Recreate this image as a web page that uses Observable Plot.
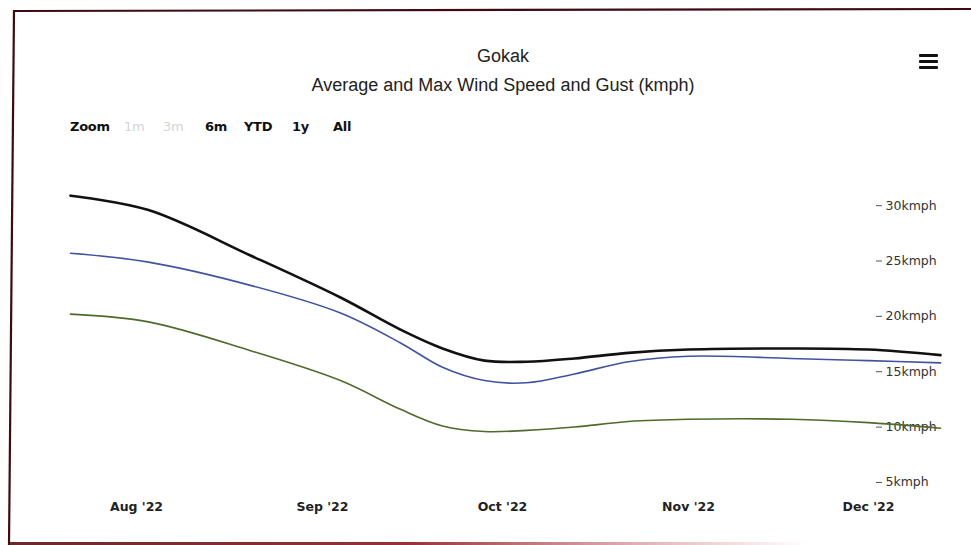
<!DOCTYPE html>
<html>
<head>
<meta charset="utf-8">
<script src="https://cdn.jsdelivr.net/npm/d3@7"></script>
<script src="https://cdn.jsdelivr.net/npm/@observablehq/plot@0.6"></script>
<style>
  html, body { margin: 0; padding: 0; background: #fff; }
  #wrap { position: relative; width: 971px; height: 545px; overflow: hidden; background: #fff; font-family: "Liberation Sans", Arial, sans-serif; }
  .abs { position: absolute; white-space: nowrap; }
  #title { left: 0; width: 1006px; top: 46px; text-align: center; font-size: 18px; color: #222; }
  #subtitle { left: 0; width: 1006px; top: 75px; text-align: center; font-size: 18px; color: #222; }
  .rs { top: 119px; font-size: 13px; font-weight: 600; color: #111; font-family: "DejaVu Sans", sans-serif; letter-spacing: -0.3px; }
  .rs.dis { color: #d4d4d4; font-weight: 400; }
  #chart { position: absolute; left: 0; top: 150px; }
  #menu { left: 919px; top: 54px; width: 19px; }
  #menu div { height: 3px; background: #111; margin-bottom: 3px; border-radius: 1px; }
  #deco { position: absolute; left: 0; top: 0; pointer-events: none; }
</style>
</head>
<body>
<div id="wrap">
  <div id="title" class="abs">Gokak</div>
  <div id="subtitle" class="abs">Average and Max Wind Speed and Gust (kmph)</div>
  <div id="rsel"></div>
  <div id="menu" class="abs"><div></div><div></div><div></div></div>
  <div id="chart"></div>
  <svg id="deco" width="971" height="545">
    <defs>
      <linearGradient id="bot" x1="0" x2="1" y1="0" y2="0">
        <stop offset="0" stop-color="#5a1016" stop-opacity="0.9"/>
        <stop offset="0.5" stop-color="#8a1a22" stop-opacity="0.9"/>
        <stop offset="1" stop-color="#c04050" stop-opacity="0"/>
      </linearGradient>
    </defs>
    <line x1="14" y1="11" x2="971" y2="9" stroke="#3c0c12" stroke-width="2.2"/>
    <line x1="14" y1="10" x2="9" y2="545" stroke="#3c0c12" stroke-width="2.2"/>
    <rect x="9" y="542" width="800" height="3" fill="url(#bot)"/>
  </svg>
</div>
<script>
// ---- data ----
const dates = ["2022-07-21","2022-08-03","2022-08-20","2022-09-04","2022-09-14","2022-09-21","2022-09-28","2022-10-05","2022-10-13","2022-10-22","2022-11-01","2022-11-18","2022-12-01","2022-12-13"];
const gust    = [30.9, 29.6, 25.5, 21.7, 18.8, 17.1, 16.0, 15.9, 16.2, 16.7, 17.0, 17.1, 17.0, 16.5];
const maxWind = [25.7, 24.9, 22.8, 20.3, 17.6, 15.4, 14.2, 14.0, 14.8, 15.9, 16.4, 16.2, 16.0, 15.8];
const avgWind = [20.2, 19.5, 16.9, 14.2, 11.6, 10.1, 9.6, 9.7, 10.0, 10.5, 10.7, 10.7, 10.4, 9.9];
const seriesNames = ["Gust", "Max Wind Speed", "Average Wind Speed"];
const seriesColors = ["#111111", "#43529e", "#4f6a2c"];
const seriesWidths = [2.6, 1.6, 1.6];
const yTicks = [5, 10, 15, 20, 25, 30];
const yTickLabels = ["5kmph", "10kmph", "15kmph", "20kmph", "25kmph", "30kmph"];
const xTicks = ["2022-08-01","2022-09-01","2022-10-01","2022-11-01","2022-12-01"];
const xTickLabels = ["Aug '22", "Sep '22", "Oct '22", "Nov '22", "Dec '22"];
const rangeButtons = ["1m", "3m", "6m", "YTD", "1y", "All"];
const rangeDisabled = [true, true, false, false, false, false];

// ---- range selector (text) ----
const rsel = document.getElementById("rsel");
const rsPos = [70, 124, 163, 205, 244, 292, 333];
["Zoom", ...rangeButtons].forEach((t, i) => {
  const s = document.createElement("div");
  s.className = "abs rs" + (i > 0 && rangeDisabled[i - 1] ? " dis" : "");
  s.style.left = rsPos[i] + "px";
  s.textContent = t;
  rsel.appendChild(s);
});

// ---- chart ----
const parse = d3.utcParse("%Y-%m-%d");
const allSeries = [gust, maxWind, avgWind];
const rows = allSeries.flatMap((vals, s) =>
  vals.map((v, i) => ({date: parse(dates[i]), value: v, series: seriesNames[s]})));

const chart = Plot.plot({
  width: 971,
  height: 395,
  marginLeft: 70,
  marginRight: 31,
  marginTop: 33,
  marginBottom: 52,
  style: {fontFamily: "DejaVu Sans, sans-serif", fontSize: "12.5px", color: "#333", background: "transparent"},
  x: {type: "utc", domain: [parse(dates[0]), parse(dates[dates.length - 1])]},
  y: {domain: [4, 32]},
  color: {domain: seriesNames, range: seriesColors},
  marks: [
    Plot.axisX({
      ticks: xTicks.map(parse),
      tickFormat: (d, i) => xTickLabels[i],
      tickSize: 0,
      tickPadding: 9,
      label: null,
      fill: "#222",
      fontWeight: 600
    }),
    Plot.axisY({
      anchor: "right",
      ticks: yTicks,
      tickFormat: (d, i) => yTickLabels[i],
      tickSize: 6,
      tickPadding: 4,
      dx: -65,
      label: null,
      fill: "#333",
      stroke: "#555"
    }),
    ...seriesNames.map((name, s) =>
      Plot.line(rows.filter(r => r.series === name), {
        x: "date",
        y: "value",
        stroke: "series",
        strokeWidth: seriesWidths[s],
        curve: "catmull-rom"
      })
    )
  ]
});
document.getElementById("chart").appendChild(chart);
</script>
</body>
</html>
